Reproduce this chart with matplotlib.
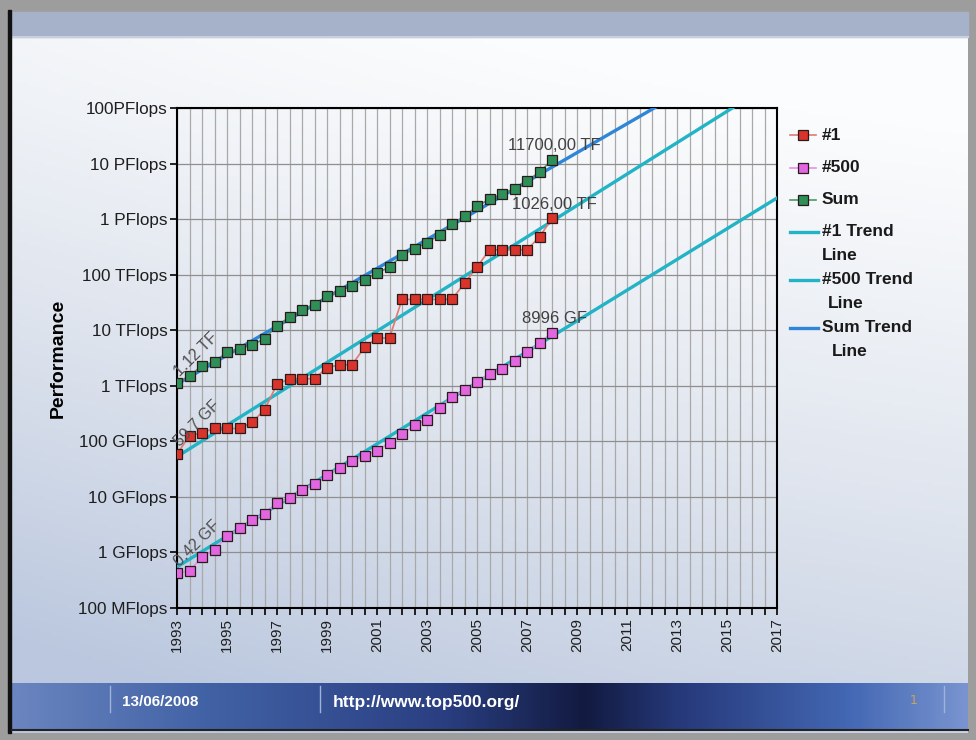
import numpy as np
import matplotlib
matplotlib.use("Agg")
import matplotlib.pyplot as plt
from matplotlib.colors import LinearSegmentedColormap
from matplotlib.patches import Rectangle

# TOP500 lists (June / November), performance in GFlops
lists = ["06/1993", "11/1993", "06/1994", "11/1994", "06/1995", "11/1995",
         "06/1996", "11/1996", "06/1997", "11/1997", "06/1998", "11/1998",
         "06/1999", "11/1999", "06/2000", "11/2000", "06/2001", "11/2001",
         "06/2002", "11/2002", "06/2003", "11/2003", "06/2004", "11/2004",
         "06/2005", "11/2005", "06/2006", "11/2006", "06/2007", "11/2007",
         "06/2008"]
top1 = [59.7, 124.5, 143.4, 170.4, 170.4, 170.4, 220.4, 368.2, 1068, 1338,
        1338, 1338, 2121, 2379, 2379, 4938, 7226, 7226, 35860, 35860, 35860,
        35860, 35860, 70720, 136800, 280600, 280600, 280600, 280600, 478200,
        1026000]
top500 = [0.42, 0.47, 0.82, 1.11, 1.96, 2.7, 3.8, 5.0, 7.7, 9.5, 13.4, 17.1,
          24.7, 33.1, 43.8, 55.1, 67.8, 94.3, 134.3, 195.8, 245.1, 403.4, 624,
          850.6, 1166, 1646, 2026, 2737, 4005, 5929, 8996]
total = [1128, 1493, 2317, 2732, 3986, 4625, 5460, 7010, 12150, 17100, 23200,
         28900, 40700, 49900, 63300, 81600, 109000, 135000, 223000, 293000,
         375000, 528000, 813000, 1127000, 1690000, 2300000, 2790000, 3540000,
         4920000, 6970000, 11700000]

# trend lines (GFlops at 1993 and 2017)
trend_years = [1993, 2017]
trend_top1 = [53, 3.2e8]
trend_top500 = [0.55, 2.4e6]
trend_sum = [1070, 1.9e9]

start_labels = ["1.12 TF", "59.7 GF", "0.42 GF"]
end_labels = ["11700,00 TF", "1026,00 TF", "8996 GF"]

ytick_vals = [0.1, 1, 10, 100, 1e3, 1e4, 1e5, 1e6, 1e7, 1e8]
ytick_labels = ["100 MFlops", "1 GFlops", "10 GFlops", "100 GFlops", "1 TFlops",
                "10 TFlops", "100 TFlops", "1 PFlops", "10 PFlops", "100PFlops"]
xtick_years = list(range(1993, 2018, 2))

x = [int(s[3:]) + (0.5 if s.startswith("11") else 0.0) for s in lists]

SANS = ["Liberation Sans", "DejaVu Sans"]

C_TOP1, C_TOP500, C_SUM = "#d8342b", "#e266e0", "#2f8f58"
C_TREND, C_SUMTREND = "#22b4c6", "#2f86d8"

fig = plt.figure(figsize=(9.76, 7.4), dpi=100)

# ---- slide background (pixel coordinates) ----
bg = fig.add_axes([0, 0, 1, 1])
bg.set_xlim(0, 976); bg.set_ylim(740, 0); bg.axis("off")
bg.add_patch(Rectangle((0, 0), 976, 740, color="#9d9d9d", zorder=0))
yy, xx = np.mgrid[0:1:200j, 0:1:260j]
shade = np.clip(0.02 + 0.75 * yy ** 1.2 + 0.25 * (1 - xx) * yy
                + 0.12 * (1 - xx) ** 2 - 0.1 * (1 - yy) * xx, 0, 1)
slide_cmap = LinearSegmentedColormap.from_list("slide", ["#fbfcfd", "#dde3ed", "#bac7de"])
bg.imshow(shade, cmap=slide_cmap, extent=(12, 968, 733, 37), aspect="auto",
          vmin=0, vmax=1, zorder=1)
bg.add_patch(Rectangle((12, 12), 956, 25, color="#a6b2ca", zorder=2))
bg.plot([12, 968], [37, 37], color="#c8d0e0", lw=1.5, zorder=2)
# footer band
foot = np.tile(np.linspace(0, 1, 300), (20, 1))
foot_cmap = LinearSegmentedColormap.from_list(
    "foot", [(0, "#6a85bf"), (0.2, "#4262a6"), (0.45, "#2a3f82"), (0.6, "#121a40"),
             (0.7, "#26397a"), (0.88, "#4468b4"), (1, "#7893cf")])
bg.imshow(foot, cmap=foot_cmap, extent=(12, 968, 729, 683), aspect="auto", zorder=2)
for fx in (110, 320, 944):
    bg.plot([fx, fx], [686, 712], color="#9fb2da", lw=1, zorder=3)
bg.text(122, 702, "13/06/2008", color="white", fontsize=11, fontweight="bold",
        family=SANS, va="center", zorder=4)
bg.text(333, 702, "http://www.top500.org/", color="white", fontsize=12.5,
        fontweight="bold", family=SANS, va="center", zorder=4)
bg.text(910, 700, "1", color="#c9a25e", fontsize=9, va="center", zorder=4)
bg.add_patch(Rectangle((8, 10), 3, 723, color="#111111", zorder=3))
bg.plot([12, 968], [730, 730], color="#222222", lw=1.5, zorder=3)

# ---- chart ----
ax = fig.add_axes([177 / 976, 1 - 608 / 740, 600 / 976, 500 / 740])
ax.set_facecolor("none")
ax.set_yscale("log")
ax.set_xlim(1993, 2017)
ax.set_ylim(0.1, 1e8)

ax.plot(trend_years, trend_top500, color=C_TREND, lw=2.4, zorder=3)
ax.plot(trend_years, trend_top1, color=C_TREND, lw=2.4, zorder=3)
ax.plot(trend_years, trend_sum, color=C_SUMTREND, lw=2.4, zorder=3)

series = [(total, "#4a9a68", C_SUM), (top1, "#e07a70", C_TOP1), (top500, "#e890e8", C_TOP500)]
for vals, lc, fc in series:
    ax.plot(x, vals, color=lc, lw=1.2, marker="s", ms=7, mfc=fc, mec="#2a1a1a",
            mew=0.9, zorder=4)

for vals, lab in zip([total, top1, top500], start_labels):
    ax.annotate(lab, xy=(x[0], vals[0]), xytext=(4, 3), textcoords="offset points",
                rotation=45, rotation_mode="anchor", ha="left", va="bottom",
                fontsize=11.5, color="#505050", family=SANS, zorder=5)
for vals, lab in zip([total, top1, top500], end_labels):
    ax.annotate(lab, xy=(x[-1], vals[-1]), xytext=(2, 5), textcoords="offset points",
                ha="center", va="bottom", fontsize=12, color="#404040",
                family=SANS, zorder=5)

ax.set_yticks(ytick_vals)
ax.set_yticklabels(ytick_labels, family=SANS, fontsize=12.3, color="#1e1e1e")
ax.yaxis.set_minor_locator(matplotlib.ticker.NullLocator())
ax.set_xticks(xtick_years)
ax.set_xticklabels([str(y) for y in xtick_years], rotation=90, family=SANS,
                   fontsize=11, color="#1e1e1e")
ax.set_xticks(np.arange(1993, 2017.01, 0.5), minor=True)
ax.tick_params(axis="both", which="both", direction="out", length=5, width=1.2,
               color="black", pad=2)
ax.grid(True, which="both", axis="x", color="#a9a9a9", lw=0.9)
ax.grid(True, which="major", axis="y", color="#8f8f8f", lw=0.9)
ax.set_axisbelow(True)
for sp in ax.spines.values():
    sp.set_linewidth(1.5)
    sp.set_color("black")
ax.set_ylabel("Performance", fontsize=14, fontweight="bold", family=SANS,
              labelpad=8)

# ---- legend ----
leg_rows = [("#1", 135, "#e07a70", C_TOP1), ("#500", 168, "#e890e8", C_TOP500),
            ("Sum", 200, "#4a9a68", C_SUM)]
for lab, y, lc, fc in leg_rows:
    bg.plot([790, 816], [y, y], color=lc, lw=1.2, zorder=4)
    bg.plot([803], [y], marker="s", ms=7, mfc=fc, mec="#2a1a1a", mew=0.9, zorder=5)
    bg.text(822, y, lab, fontsize=12.5, fontweight="bold", family=SANS, va="center",
            color="#1a1a1a", zorder=5)
trend_rows = [("#1 Trend", "Line", 232, 0, C_TREND), ("#500 Trend", "Line", 280, 6, C_TREND),
              ("Sum Trend", "Line", 328, 10, C_SUMTREND)]
for l1, l2, y, ind, c in trend_rows:
    bg.plot([790, 818], [y, y], color=c, lw=2.4, zorder=4)
    bg.text(822, y, l1, fontsize=12.5, fontweight="bold", family=SANS, va="center",
            color="#1a1a1a", zorder=5)
    bg.text(822 + ind, y + 23, l2, fontsize=12.5, fontweight="bold", family=SANS,
            va="center", color="#1a1a1a", zorder=5)

fig.savefig("out.png", dpi=100)
